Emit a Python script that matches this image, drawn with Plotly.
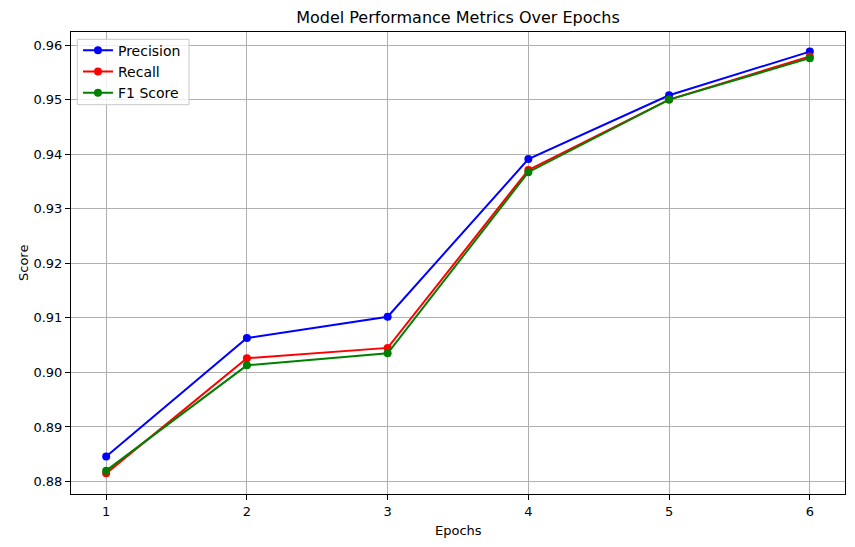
import plotly.graph_objects as go

epochs = [1, 2, 3, 4, 5, 6]
precision = [0.8846, 0.9063, 0.9102, 0.9391, 0.9508, 0.9588]
recall = [0.8815, 0.9026, 0.9045, 0.9371, 0.9500, 0.9579]
f1_score = [0.8820, 0.9013, 0.9035, 0.9367, 0.9500, 0.9576]
y_ticks = [0.88, 0.89, 0.90, 0.91, 0.92, 0.93, 0.94, 0.95, 0.96]

fig = go.Figure()
for name, vals, col in [("Precision", precision, "blue"),
                        ("Recall", recall, "red"),
                        ("F1 Score", f1_score, "green")]:
    fig.add_trace(go.Scatter(x=epochs, y=vals, name=name, mode="lines+markers",
                             line=dict(color=col, width=2),
                             marker=dict(color=col, size=8)))

axis_common = dict(showline=True, linecolor="black", linewidth=1, mirror=True,
                   showgrid=True, gridcolor="#b0b0b0", gridwidth=1,
                   ticks="outside", ticklen=5, tickcolor="black",
                   tickfont=dict(size=13, color="black"), zeroline=False,
                   automargin=False)

# plot area: 774 x 462 px starting at (71, 32)
fig.update_layout(
    width=855, height=547,
    paper_bgcolor="white", plot_bgcolor="white",
    font=dict(family="DejaVu Sans", color="black"),
    margin=dict(l=71, r=10, t=32, b=53),
    title=dict(text="Model Performance Metrics Over Epochs", x=0.5, xref="paper",
               xanchor="center", y=1 - 17 / 547, yref="container", yanchor="middle",
               font=dict(size=16)),
    xaxis=dict(range=[0.75, 6.25], tickvals=epochs, **axis_common),
    yaxis=dict(range=[0.87772, 0.96239], tickvals=y_ticks, tickformat=".2f",
               **axis_common),
    legend=dict(x=0.009, y=0.994, xanchor="left", yanchor="top",
                bgcolor="rgba(0,0,0,0)", borderwidth=0,
                font=dict(size=14), tracegroupgap=0, itemwidth=30),
    showlegend=True,
    shapes=[
        dict(type="rect", xref="paper", yref="paper", layer="above",
             x0=(77.3 - 71) / 774, x1=(189 - 71) / 774,
             y0=1 - (104.7 - 32) / 462, y1=1 - (39.3 - 32) / 462,
             fillcolor="rgba(255,255,255,0.8)", line=dict(color="#c8c8c8", width=1)),
    ],
    annotations=[
        dict(text="Epochs", xref="paper", yref="paper", x=0.5, y=0,
             yshift=-(530 - 494), xanchor="center", yanchor="middle",
             showarrow=False, font=dict(size=13)),
        dict(text="Score", xref="paper", yref="paper", x=0, y=0.5,
             xshift=-(71 - 23), xanchor="center", yanchor="middle",
             textangle=-90, showarrow=False, font=dict(size=13)),
    ],
)

fig.write_html("out.html", config={"displayModeBar": False},
               post_script="document.body.style.margin='0';")
